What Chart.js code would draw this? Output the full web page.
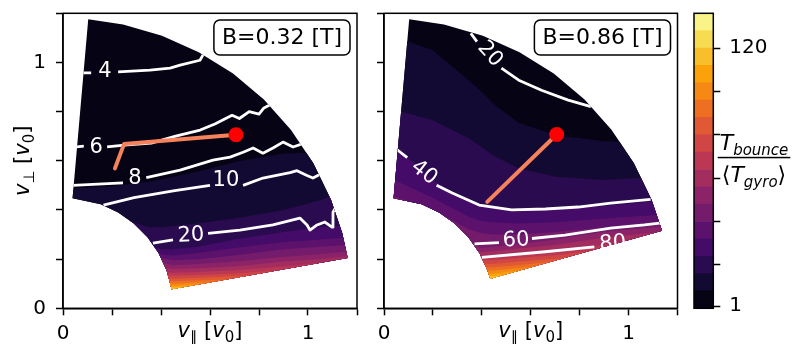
<!DOCTYPE html>
<html>
<head>
<meta charset="utf-8">
<script src="https://cdn.jsdelivr.net/npm/chart.js@4.4.1/dist/chart.umd.min.js"></script>
<style>
  html, body { margin: 0; padding: 0; background: #ffffff; }
  #wrap { position: relative; width: 795px; height: 344px; overflow: hidden; background: #ffffff; }
  #wrap canvas { position: absolute; top: 0; }
</style>
</head>
<body>
<div id="wrap">
  <canvas id="panelLeft" width="365" height="344" style="left:0px;width:365px;height:344px"></canvas>
  <canvas id="panelRight" width="320" height="344" style="left:365px;width:320px;height:344px"></canvas>
  <canvas id="colorBar" width="110" height="344" style="left:685px;width:110px;height:344px"></canvas>
</div>
<script>
// ================= DATA =================
const panelTitles = ['B=0.32 [T]', 'B=0.86 [T]'];

// x positions at which the filled-band edges are sampled (v_par, units v0)
const gridX = [0.0, 0.2, 0.35, 0.4, 0.45, 0.55, 0.7, 0.9, 1.05, 1.2];

// colour levels (T_bounce/<T_gyro>)
const cbLevels = [0, 8, 16, 24, 32, 40, 48, 56, 64, 72, 80, 88, 96, 104, 112, 120, 128, 136];
const cbTicks = [1, 20, 40, 60, 80, 100, 120];
const cbTickLabels = ['1', '', '', '', '', '', '120'];

// left panel (B=0.32): lowest level shown and band edges (v_perp at gridX)
const vminLeft = 0;
const levelsLeft = [8, 16, 24, 32, 40, 48, 56, 64, 72, 80, 88, 96, 104, 112, 120, 128];
const edgesLeft = [
  [0.485, 0.495, 0.515, 0.525, 0.535, 0.555, 0.595, 0.63, 0.635, 0.64],
  [0.45, 0.38, 0.33, 0.33, 0.335, 0.345, 0.365, 0.40, 0.44, 0.50],
  [0.35, 0.30, 0.255, 0.24, 0.24, 0.25, 0.28, 0.31, 0.33, 0.34],
  [0.30, 0.27, 0.235, 0.22, 0.215, 0.225, 0.245, 0.27, 0.28, 0.29],
  [0.27, 0.24, 0.215, 0.205, 0.195, 0.20, 0.215, 0.24, 0.25, 0.26],
  [0.24, 0.21, 0.19, 0.185, 0.175, 0.18, 0.19, 0.21, 0.22, 0.235],
  [0.22, 0.19, 0.17, 0.165, 0.16, 0.163, 0.17, 0.19, 0.20, 0.215],
  [0.20, 0.17, 0.155, 0.15, 0.145, 0.148, 0.155, 0.17, 0.185, 0.20],
  [0.18, 0.155, 0.14, 0.135, 0.132, 0.135, 0.142, 0.155, 0.17, 0.185],
  [0.16, 0.14, 0.128, 0.124, 0.12, 0.124, 0.13, 0.14, 0.155, 0.17],
  [0.15, 0.13, 0.118, 0.114, 0.11, 0.114, 0.118, 0.128, 0.14, 0.155],
  [0.14, 0.12, 0.108, 0.105, 0.10, 0.105, 0.108, 0.118, 0.13, 0.145],
  [0.13, 0.11, 0.10, 0.097, 0.092, 0.096, 0.10, 0.11, 0.12, 0.135],
  [0.12, 0.10, 0.092, 0.089, 0.085, 0.088, 0.092, 0.10, 0.11, 0.125],
  [0.11, 0.09, 0.085, 0.082, 0.078, 0.08, 0.085, 0.09, 0.10, 0.115],
  [0.10, 0.08, 0.078, 0.075, 0.07, 0.07, 0.075, 0.08, 0.09, 0.10]
];

// right panel (B=0.86)
const vminRight = 16;
const levelsRight = [24, 32, 40, 48, 56, 64, 72, 80, 88, 96, 104, 112, 120, 128, 136, 144];
const edgesRight = [
  [1.12, 1.05, 0.925, 0.88, 0.83, 0.755, 0.705, 0.68, 0.675, 0.675],
  [0.82, 0.765, 0.69, 0.655, 0.62, 0.57, 0.535, 0.522, 0.53, 0.535],
  [0.70, 0.52, 0.435, 0.42, 0.41, 0.40, 0.403, 0.415, 0.43, 0.445],
  [0.54, 0.45, 0.37, 0.355, 0.35, 0.345, 0.35, 0.365, 0.375, 0.385],
  [0.47, 0.40, 0.32, 0.305, 0.30, 0.30, 0.31, 0.33, 0.345, 0.355],
  [0.40, 0.34, 0.255, 0.245, 0.25, 0.26, 0.28, 0.31, 0.325, 0.335],
  [0.38, 0.32, 0.24, 0.228, 0.232, 0.243, 0.258, 0.287, 0.303, 0.315],
  [0.36, 0.30, 0.225, 0.21, 0.213, 0.222, 0.235, 0.258, 0.28, 0.30],
  [0.34, 0.28, 0.21, 0.195, 0.196, 0.205, 0.216, 0.24, 0.262, 0.285],
  [0.32, 0.26, 0.195, 0.18, 0.181, 0.19, 0.202, 0.226, 0.25, 0.27],
  [0.30, 0.24, 0.18, 0.166, 0.167, 0.176, 0.19, 0.213, 0.237, 0.257],
  [0.28, 0.22, 0.165, 0.153, 0.154, 0.164, 0.178, 0.20, 0.224, 0.244],
  [0.26, 0.20, 0.152, 0.142, 0.142, 0.153, 0.168, 0.19, 0.212, 0.232],
  [0.24, 0.18, 0.14, 0.131, 0.131, 0.143, 0.158, 0.18, 0.20, 0.22],
  [0.22, 0.16, 0.128, 0.12, 0.12, 0.133, 0.149, 0.17, 0.19, 0.21],
  [0.20, 0.14, 0.117, 0.11, 0.11, 0.123, 0.14, 0.16, 0.18, 0.20]
];

// outline of the sampled (v_par, v_perp) domain
const wedgeLeft = [
  [0.103, 1.176], [0.245, 1.154], [0.404, 1.109], [0.554, 1.042], [0.694, 0.955], [0.820, 0.849],
  [0.930, 0.726], [1.022, 0.590], [1.094, 0.442], [1.140, 0.305], [1.162, 0.205],
  [0.443, 0.078], [0.423, 0.154], [0.390, 0.225], [0.345, 0.289], [0.289, 0.345],
  [0.225, 0.390], [0.154, 0.423], [0.039, 0.448]
];
const wedgeRight = [
  [0.103, 1.176], [0.245, 1.154], [0.404, 1.109], [0.554, 1.042], [0.694, 0.955], [0.820, 0.849],
  [0.930, 0.726], [1.022, 0.590], [1.094, 0.442], [1.137, 0.315],
  [0.434, 0.120], [0.423, 0.154], [0.390, 0.225], [0.345, 0.289], [0.289, 0.345],
  [0.225, 0.390], [0.154, 0.423], [0.039, 0.448]
];

// white contour lines (null = gap for the inline label)
const contourL4 = [[0.08, 0.958], [0.115, 0.958], null, [0.225, 0.962], [0.355, 0.969], [0.437, 0.977], [0.478, 0.989], [0.559, 1.009], [0.571, 1.030], [0.585, 1.04]];
const contourL6 = [[0.055, 0.657], [0.085, 0.66], null, [0.18, 0.657], [0.25, 0.664], [0.36, 0.672], [0.46, 0.70], [0.56, 0.725], [0.62, 0.75], [0.69, 0.785], [0.72, 0.772], [0.76, 0.80], [0.80, 0.79], [0.82, 0.815], [0.85, 0.83]];
const contourL8 = [[0.04, 0.50], [0.245, 0.51], null, [0.34, 0.532], [0.478, 0.562], [0.612, 0.603], [0.682, 0.615], [0.735, 0.635], [0.776, 0.652], [0.816, 0.631], [0.857, 0.652], [0.898, 0.676], [0.939, 0.656], [0.985, 0.672]];
const contourL10 = [[0.165, 0.42], [0.29, 0.45], [0.45, 0.478], [0.60, 0.50], null, [0.735, 0.50], [0.816, 0.53], [0.927, 0.552], [0.955, 0.56], [0.996, 0.54], [1.02, 0.53], [1.06, 0.55]];
const contourL20 = [[0.367, 0.265], [0.449, 0.278], null, [0.592, 0.305], [0.722, 0.318], [0.857, 0.339], [0.967, 0.367], [0.996, 0.339], [1.008, 0.318], [1.037, 0.339], [1.069, 0.351], [1.098, 0.33], [1.102, 0.391], [1.118, 0.42]];
const contourR20 = [[0.355, 1.118], [0.38, 1.085], null, [0.48, 0.977], [0.551, 0.928], [0.644, 0.887], [0.753, 0.847], [0.846, 0.82]];
const contourR40 = [[0.05, 0.648], [0.095, 0.613], null, [0.215, 0.501], [0.279, 0.469], [0.389, 0.42], [0.522, 0.40], [0.66, 0.404], [0.794, 0.412], [0.927, 0.428], [1.09, 0.443]];
const contourR60 = [[0.37, 0.262], [0.47, 0.267], null, [0.605, 0.284], [0.74, 0.298], [0.927, 0.326], [1.065, 0.339], [1.14, 0.348]];
const contourR80 = [[0.40, 0.207], [0.659, 0.23], [0.86, 0.25]];

// inline contour labels: text, v_par, v_perp, angle (deg)
const labelsLeft = [['4', 0.171, 0.967, 0], ['6', 0.135, 0.658, 0], ['8', 0.294, 0.53, 0], ['10', 0.665, 0.522, 0], ['20', 0.522, 0.30, -3]];
const labelsRight = [['20', 0.436, 1.037, 48], ['40', 0.166, 0.555, 38], ['60', 0.54, 0.28, -3], ['80', 0.935, 0.267, -4]];

// orbit path (orange) and reference point (red)
const pathLeft = [[0.212, 0.569], [0.249, 0.668], [0.706, 0.706]];
const pathRight = [[0.422, 0.433], [0.706, 0.707]];
const pointLeft = [0.706, 0.706];
const pointRight = [0.706, 0.707];

// ================= STYLE / HELPERS =================
const FONT = '"DejaVu Sans", sans-serif';
const infernoStops = ['#000004', '#160b39', '#420a68', '#6a176e', '#932667', '#bc3754', '#dd513a', '#f37819', '#fca50a', '#f6d746', '#fcffa4'];
function hexToRgb(h) { return [parseInt(h.slice(1, 3), 16), parseInt(h.slice(3, 5), 16), parseInt(h.slice(5, 7), 16)]; }
function inferno(t) {
  t = Math.max(0, Math.min(1, t));
  const n = infernoStops.length - 1;
  const s = t * n, i = Math.min(n - 1, Math.floor(s)), f = s - i;
  const a = hexToRgb(infernoStops[i]), b = hexToRgb(infernoStops[i + 1]);
  return 'rgb(' + [0, 1, 2].map(k => Math.round(a[k] + (b[k] - a[k]) * f)).join(',') + ')';
}
const nBands = cbLevels.length - 1;
const levelStep = cbLevels[1] - cbLevels[0];
const bandColor = k => inferno((k + 0.5) / nBands);

const xLabelParts = [{ t: 'v', it: 1 }, { t: '\u2225', sub: 1 }, { t: ' [' }, { t: 'v', it: 1 }, { t: '0', sub: 1 }, { t: ']' }];
const yLabelParts = [{ t: 'v', it: 1 }, { t: '\u22A5', sub: 1 }, { t: ' [' }, { t: 'v', it: 1 }, { t: '0', sub: 1 }, { t: ']' }];
const numParts = [{ t: 'T', it: 1 }, { t: 'bounce', it: 1, sub: 1 }];
const denParts = [{ t: '\u27E8' }, { t: 'T', it: 1 }, { t: 'gyro', it: 1, sub: 1 }, { t: '\u27E9' }];

function partFont(p, size) { return (p.it ? 'italic ' : '') + (p.sub ? Math.round(size * 0.7) : size) + 'px ' + FONT; }
function richWidth(ctx, parts, size) {
  let w = 0;
  parts.forEach(p => { ctx.font = partFont(p, size); w += ctx.measureText(p.t).width; });
  return w;
}
function drawRich(ctx, parts, x, y, size, align) {
  const total = richWidth(ctx, parts, size);
  let cx = align === 'center' ? x - total / 2 : (align === 'right' ? x - total : x);
  ctx.textAlign = 'left';
  ctx.textBaseline = 'alphabetic';
  parts.forEach(p => {
    ctx.font = partFont(p, size);
    ctx.fillText(p.t, cx, y + (p.sub ? size * 0.22 : 0));
    cx += ctx.measureText(p.t).width;
  });
  return total;
}
function toXY(pts) {
  const out = [];
  let last = 0;
  pts.forEach(p => {
    if (p) { out.push({ x: p[0], y: p[1] }); last = p[0]; }
    else out.push({ x: last, y: null });
  });
  return out;
}
const tickLabel = v => (Math.abs(v) < 1e-9 ? '0' : (Math.abs(v - 1) < 1e-9 ? '1' : ''));

function buildDatasets(levels, edges, vmin, contours, path, point) {
  const ds = [];
  ds.push({
    data: [{ x: 0, y: 1.2 }, { x: 1.2, y: 1.2 }], fill: 'start', backgroundColor: bandColor(0),
    borderColor: 'rgba(0,0,0,0)', borderWidth: 0, pointRadius: 0, tension: 0, order: 1000
  });
  levels.forEach((L, k) => {
    ds.push({
      data: gridX.map((x, i) => ({ x: x, y: edges[k][i] })), fill: 'start',
      backgroundColor: bandColor((L - vmin) / levelStep),
      borderColor: 'rgba(0,0,0,0)', borderWidth: 0, pointRadius: 0, tension: 0, order: 900 - k
    });
  });
  contours.forEach(c => {
    ds.push({
      data: toXY(c), fill: false, borderColor: '#ffffff', borderWidth: 2.8, pointRadius: 0,
      tension: 0, spanGaps: false, borderJoinStyle: 'round', order: 20
    });
  });
  ds.push({
    data: toXY(path), fill: false, borderColor: '#f5825a', borderWidth: 4, pointRadius: 0,
    tension: 0, borderCapStyle: 'round', borderJoinStyle: 'round', order: 10
  });
  ds.push({
    data: [{ x: point[0], y: point[1] }], showLine: false, fill: false, pointRadius: 7.5,
    pointBackgroundColor: '#ff0000', pointBorderColor: '#ff0000', pointBorderWidth: 0, order: 1
  });
  return ds;
}

function panelPlugin(cfg) {
  return {
    id: 'panelDecor' + cfg.id,
    beforeDatasetsDraw(chart) {
      const { ctx, scales: { x, y } } = chart;
      ctx.save();
      ctx.beginPath();
      cfg.wedge.forEach((p, i) => {
        const px = x.getPixelForValue(p[0]), py = y.getPixelForValue(p[1]);
        if (i) ctx.lineTo(px, py); else ctx.moveTo(px, py);
      });
      ctx.closePath();
      ctx.clip();
    },
    afterDatasetsDraw(chart) {
      const { ctx, scales: { x, y } } = chart;
      ctx.restore();
      ctx.save();
      ctx.fillStyle = '#ffffff';
      ctx.font = '21px ' + FONT;
      ctx.textAlign = 'center';
      ctx.textBaseline = 'middle';
      cfg.labels.forEach(([t, lx, ly, rot]) => {
        ctx.save();
        ctx.translate(x.getPixelForValue(lx), y.getPixelForValue(ly));
        ctx.rotate(rot * Math.PI / 180);
        ctx.fillText(t, 0, 1);
        ctx.restore();
      });
      ctx.restore();
    },
    afterDraw(chart) {
      const { ctx, chartArea: a } = chart;
      ctx.save();
      ctx.strokeStyle = '#000';
      ctx.lineWidth = 1.5;
      ctx.strokeRect(a.left, a.top, a.right - a.left, a.bottom - a.top);
      ctx.font = '22px ' + FONT;
      const tw = ctx.measureText(cfg.title).width;
      const bw = tw + 16, bh = 35, bx = a.right - 7 - bw, by = a.top + 6.7;
      ctx.beginPath();
      ctx.roundRect(bx, by, bw, bh, 6);
      ctx.fillStyle = '#fff';
      ctx.fill();
      ctx.lineWidth = 1.5;
      ctx.strokeStyle = '#000';
      ctx.stroke();
      ctx.fillStyle = '#000';
      ctx.textAlign = 'center';
      ctx.textBaseline = 'middle';
      ctx.fillText(cfg.title, bx + bw / 2, by + bh / 2 + 1);
      drawRich(ctx, xLabelParts, (a.left + a.right) / 2, 337, 21, 'center');
      if (cfg.yLabel) {
        ctx.translate(29, (a.top + a.bottom) / 2);
        ctx.rotate(-Math.PI / 2);
        drawRich(ctx, yLabelParts, 0, 0, 21, 'center');
      }
      ctx.restore();
    }
  };
}

function axisCommon() {
  return {
    type: 'linear', min: 0, max: 1.2,
    grid: { display: true, drawOnChartArea: false, drawTicks: true, tickLength: 7, tickWidth: 1.5, tickColor: '#000' },
    border: { display: true, color: '#000', width: 1.5 }
  };
}
function fixH(h) { return s => { s.height = h; s.paddingLeft = 0; s.paddingRight = 0; }; }
function fixW(w) { return s => { s.width = w; s.paddingTop = 0; s.paddingBottom = 0; }; }

function makePanel(id, cfg) {
  const xAxis = Object.assign(axisCommon(), {
    ticks: { stepSize: 0.2, autoSkip: false, maxRotation: 0, padding: 6, color: '#000', font: { family: FONT, size: 20 }, callback: v => tickLabel(v) },
    afterFit: fixH(35.7)
  });
  const yAxis = Object.assign(axisCommon(), {
    ticks: { stepSize: 0.2, autoSkip: false, padding: 10, color: '#000', font: { family: FONT, size: 20 }, callback: v => (cfg.yLabel ? tickLabel(v) : '') },
    afterFit: fixW(cfg.yWidth)
  });
  return new Chart(document.getElementById(id), {
    type: 'line',
    data: { datasets: buildDatasets(cfg.levels, cfg.edges, cfg.vmin, cfg.contours, cfg.path, cfg.point) },
    options: {
      responsive: false, animation: false, devicePixelRatio: 1, events: [],
      layout: { padding: { left: 0, right: cfg.padRight, top: 13.3, bottom: 0 } },
      plugins: { legend: { display: false }, tooltip: { enabled: false } },
      scales: { x: xAxis, y: yAxis }
    },
    plugins: [panelPlugin(cfg)]
  });
}

makePanel('panelLeft', {
  id: 'L', title: panelTitles[0], levels: levelsLeft, edges: edgesLeft, vmin: vminLeft,
  contours: [contourL4, contourL6, contourL8, contourL10, contourL20], labels: labelsLeft,
  path: pathLeft, point: pointLeft, wedge: wedgeLeft, yLabel: true, yWidth: 63, padRight: 8
});
makePanel('panelRight', {
  id: 'R', title: panelTitles[1], levels: levelsRight, edges: edgesRight, vmin: vminRight,
  contours: [contourR20, contourR40, contourR60, contourR80], labels: labelsRight,
  path: pathRight, point: pointRight, wedge: wedgeRight, yLabel: false, yWidth: 19, padRight: 5.7
});

// ================= COLORBAR =================
const cbDatasets = [];
for (let k = 0; k < nBands; k++) {
  cbDatasets.push({
    data: [[cbLevels[k], cbLevels[k + 1]]], backgroundColor: bandColor(k), borderWidth: 0,
    barPercentage: 1, categoryPercentage: 1, grouped: false
  });
}
new Chart(document.getElementById('colorBar'), {
  type: 'bar',
  data: { labels: ['cb'], datasets: cbDatasets },
  options: {
    responsive: false, animation: false, devicePixelRatio: 1, events: [],
    layout: { padding: { left: 9, right: 0, top: 13.3, bottom: 35.7 } },
    plugins: { legend: { display: false }, tooltip: { enabled: false } },
    scales: {
      x: { display: false },
      y: {
        position: 'right', min: cbLevels[0], max: cbLevels[cbLevels.length - 1],
        afterBuildTicks(s) { s.ticks = cbTicks.map(v => ({ value: v })); },
        ticks: { autoSkip: false, padding: 9, color: '#000', font: { family: FONT, size: 20 }, callback: v => { const i = cbTicks.indexOf(v); return i >= 0 ? cbTickLabels[i] : ''; } },
        grid: { display: true, drawOnChartArea: false, drawTicks: true, tickLength: 7, tickWidth: 1.5, tickColor: '#000' },
        border: { display: false },
        afterFit: fixW(81.7)
      }
    }
  },
  plugins: [{
    id: 'cbDecor',
    afterDraw(chart) {
      const { ctx, chartArea: a } = chart;
      ctx.save();
      ctx.strokeStyle = '#000';
      ctx.lineWidth = 1.5;
      ctx.strokeRect(a.left, a.top, a.right - a.left, a.bottom - a.top);
      ctx.fillStyle = '#000';
      const cx = 69;
      const wN = drawRich(ctx, numParts, cx, 150, 22, 'center');
      const wD = drawRich(ctx, denParts, cx, 182, 22, 'center');
      const w = Math.max(wN, wD) + 4;
      ctx.fillRect(cx - w / 2, 156.8, w, 1.5);
      ctx.restore();
    }
  }]
});
</script>
</body>
</html>
